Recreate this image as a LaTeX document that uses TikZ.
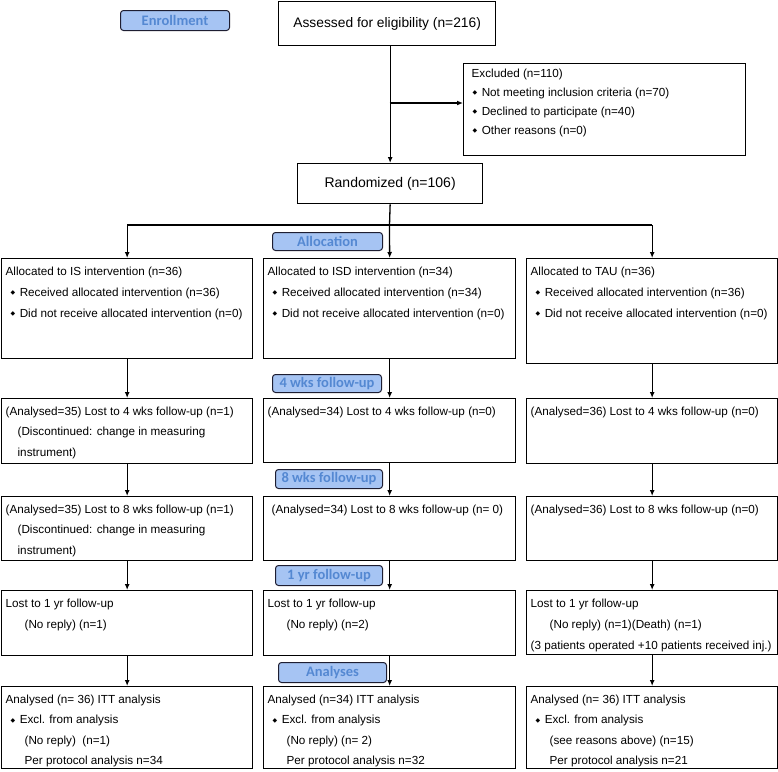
\documentclass[tikz,border=0pt]{standalone}
\usepackage{fontspec}
\setmainfont{Liberation Sans}
\newfontfamily\labfont{Carlito}
\newfontfamily\dejavu{DejaVu Sans}
\usetikzlibrary{arrows.meta}
\definecolor{labfill}{RGB}{166,196,243}
\definecolor{labtext}{RGB}{84,136,210}
\definecolor{labdraw}{RGB}{30,30,50}
\newcommand\bul{\hspace*{9pt}\raisebox{1.2pt}{\dejavu\fontsize{6}{6}\selectfont ◆}\hspace*{4.5pt}}
\newcommand\ind{\hspace*{23pt}}
\newcommand\cbox[4]{\parbox[c][#2][t]{#1}{\fontsize{11.7}{#3}\selectfont\vspace*{8pt}\hspace*{4pt}#4}}
\begin{document}
\begin{tikzpicture}[x=1pt,y=-1pt,
  bx/.style={draw, line width=1.3pt, inner sep=0pt, anchor=north west},
  lab/.style={draw=labdraw, line width=1pt, fill=labfill, rounded corners=3pt, inner sep=0pt,
    text=labtext, font=\labfont\bfseries\fontsize{14.5}{14.5}\selectfont, anchor=north west},
  arr/.style={line width=1.3pt, -{Latex[length=6pt,width=5pt]}},
  ln/.style={line width=1.3pt}]
\useasboundingbox (0,0) rectangle (778,771);

% top
\node[bx, minimum width=217pt, minimum height=44pt, font=\fontsize{13.8}{16}\selectfont] (assess) at (278,1) {Assessed for eligibility (n=216)};
\node[bx] (excl) at (463,63) {\parbox[c][92pt][t]{282pt}{\fontsize{11.7}{19}\selectfont\vspace*{5pt}\hspace*{8pt}Excluded (n=110)\\
\bul Not meeting inclusion criteria (n=70)\\
\bul Declined to participate (n=40)\\
\bul Other reasons (n=0)}};
\node[bx, minimum width=185pt, minimum height=40pt, font=\fontsize{14}{16}\selectfont] (rand) at (297,163) {Randomized (n=106)};

% labels
\node[lab, minimum width=109pt, minimum height=20pt] (labenr) at (120,10) {Enrollment};
\node[lab, minimum width=110pt, minimum height=18pt] (laball) at (272,232) {Allocation};
\node[lab, minimum width=109pt, minimum height=18pt] (lab4) at (272,374) {4 wks follow-up};
\node[lab, minimum width=107pt, minimum height=19pt] (lab8) at (275,469) {8 wks follow-up};
\node[lab, minimum width=107pt, minimum height=20pt] (lab1) at (275,565) {1 yr follow-up};
\node[lab, minimum width=108pt, minimum height=20pt] (labana) at (278,662) {Analyses};

% row 1
\node[bx] (L1) at (1,258) {\cbox{251pt}{100pt}{21pt}{Allocated to IS intervention (n=36)\\
\bul Received allocated intervention (n=36)\\
\bul Did not receive allocated intervention (n=0)}};
\node[bx] (M1) at (263,258) {\cbox{252pt}{100pt}{21pt}{Allocated to ISD intervention (n=34)\\
\bul Received allocated intervention (n=34)\\
\bul Did not receive allocated intervention (n=0)}};
\node[bx] (R1) at (526,258) {\cbox{251pt}{105pt}{21pt}{Allocated to TAU (n=36)\\
\bul Received allocated intervention (n=36)\\
\bul Did not receive allocated intervention (n=0)}};

% row 2
\node[bx] (L2) at (1,398) {\cbox{251pt}{65pt}{20.5pt}{(Analysed=35) Lost to 4 wks follow-up (n=1)\\
\hspace*{16pt}(Discontinued: change in measuring\\
\hspace*{16pt}instrument)}};
\node[bx] (M2) at (263,398) {\cbox{252pt}{64pt}{20pt}{(Analysed=34) Lost to 4 wks follow-up (n=0)}};
\node[bx] (R2) at (526,398) {\cbox{251pt}{65pt}{20pt}{(Analysed=36) Lost to 4 wks follow-up (n=0)}};

% row 3
\node[bx] (L3) at (1,496) {\cbox{251pt}{64pt}{20.5pt}{(Analysed=35) Lost to 8 wks follow-up (n=1)\\
\hspace*{16pt}(Discontinued: change in measuring\\
\hspace*{16pt}instrument)}};
\node[bx] (M3) at (263,496) {\cbox{252pt}{64pt}{20pt}{\hspace*{4pt}(Analysed=34) Lost to 8 wks follow-up (n= 0)}};
\node[bx] (R3) at (526,496) {\cbox{251pt}{64pt}{20pt}{(Analysed=36) Lost to 8 wks follow-up (n=0)}};

% row 4
\node[bx] (L4) at (1,590) {\cbox{251pt}{65pt}{21pt}{Lost to 1 yr follow-up\\
\ind(No reply) (n=1)}};
\node[bx] (M4) at (263,590) {\cbox{252pt}{65pt}{21pt}{Lost to 1 yr follow-up\\
\ind(No reply) (n=2)}};
\node[bx] (R4) at (526,590) {\cbox{251pt}{64pt}{21pt}{Lost to 1 yr follow-up\\
\ind(No reply) (n=1)(Death) (n=1)\\
\hspace*{4pt}(3 patients operated +10 patients received inj.)}};

% row 5
\node[bx] (L5) at (1,686) {\cbox{251pt}{82pt}{20.5pt}{Analysed (n= 36) ITT analysis\\
\bul Excl. from analysis\\
\ind(No reply)\ \ (n=1)\\
\ind Per protocol analysis n=34}};
\node[bx] (M5) at (263,686) {\cbox{252pt}{82pt}{20.5pt}{Analysed (n=34) ITT analysis\\
\bul Excl. from analysis\\
\ind(No reply) (n= 2)\\
\ind Per protocol analysis n=32}};
\node[bx] (R5) at (526,686) {\cbox{251pt}{82pt}{20.5pt}{Analysed (n= 36) ITT analysis\\
\bul Excl. from analysis\\
\ind(see reasons above) (n=15)\\
\ind Per protocol analysis n=21}};

% connectors
\draw[arr] (assess.south -| rand.north) -- (rand.north);
\coordinate (br) at (389.5,103);
\draw[arr] (br) -- (br -| excl.west);
\coordinate (split) at (389.5,225);
\draw[ln] (rand.south) -- (split);
\draw[ln] (L1.north |- split) -- (R1.north |- split);
\draw[arr] (L1.north |- split) -- (L1.north);
\draw[arr] (split) -- (M1.north);
\draw[arr] (R1.north |- split) -- (R1.north);

\foreach \c in {L,M,R}{
  \draw[arr] (\c1.south) -- (\c2.north);
  \draw[arr] (\c2.south) -- (\c3.north);
  \draw[arr] (\c3.south) -- (\c4.north);
  \draw[arr] (\c4.south) -- (\c5.north);
}
\end{tikzpicture}
\end{document}
